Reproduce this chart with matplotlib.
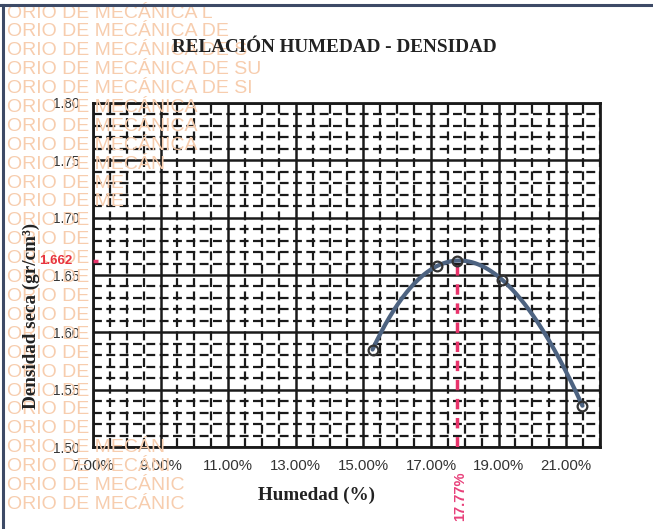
import numpy as np
import matplotlib.pyplot as plt
from matplotlib.ticker import MultipleLocator, FuncFormatter

# Datos del ensayo (humedad %, densidad seca gr/cm3)
humedad = [15.27, 17.19, 19.10, 21.48]
densidad = [1.585, 1.658, 1.646, 1.536]

# Punto máximo (óptimo contenido de humedad / máxima densidad seca)
hum_optima = 17.77
dens_max = 1.662

x_ticks = [7, 9, 11, 13, 15, 17, 19, 21]
y_ticks = [1.50, 1.55, 1.60, 1.65, 1.70, 1.75, 1.80]

# Líneas del sello de fondo
sello = ["ORIO DE MECÁNICA L", "ORIO DE MECÁNICA DE", "ORIO DE MECÁNICA DE S",
         "ORIO DE MECÁNICA DE SU", "ORIO DE MECÁNICA DE SI", "ORIO DE MECÁNICA",
         "ORIO DE MECÁNICA", "ORIO DE MECÁNICA", "ORIO DE MECÁN", "ORIO DE ME",
         "ORIO DE ME", "ORIO DE", "ORIO DE", "ORIO DE", "ORIO DE", "ORIO DE",
         "ORIO DE", "ORIO DE", "ORIO DE", "ORIO DE", "ORIO DE", "ORIO DE",
         "ORIO DE", "ORIO DE MECÁN", "ORIO DE MECÁNI", "ORIO DE MECÁNIC",
         "ORIO DE MECÁNIC"]

fig = plt.figure(figsize=(6.53, 5.29), dpi=100)

# sello naranja claro detrás del gráfico
for i, linea in enumerate(sello):
    fig.text(7 / 653, 1 - (13 + i * 18.9) / 529, linea, fontsize=14,
             family="Liberation Sans", color="#f7cdae", va="center", ha="left", zorder=0)

# marco del documento
fig.add_artist(plt.Line2D([0, 1], [1 - 5 / 529, 1 - 5 / 529], color="#3d4a66", lw=2.2))
fig.add_artist(plt.Line2D([3 / 653, 3 / 653], [0, 1 - 5 / 529], color="#3d4a66", lw=2.2))

ax = fig.add_axes([93 / 653, 1 - 447 / 529, 507 / 653, 344 / 529])
ax.set_facecolor((1, 1, 1, 0.8))

# curva de ajuste (polinomio) a los puntos del ensayo
coef = np.polyfit(humedad, densidad, 3)
xs = np.linspace(min(humedad), max(humedad), 200)
ax.plot(xs, np.polyval(coef, xs), color="#4d6381", lw=3, zorder=4, solid_capstyle="round")
ax.plot(humedad + [hum_optima], densidad + [dens_max], "o", ms=7, mfc="none",
        mec="#333333", mew=1.6, zorder=5)

# línea del óptimo
ax.vlines(hum_optima, 1.50, dens_max, colors="#e8336b", lw=2.5,
          linestyles=(0, (3, 2.5)), zorder=3)
ax.hlines(dens_max, 7, 7.15, colors="#e8336b", lw=2.5, zorder=3)

ax.set_xlim(7, 22)
ax.set_ylim(1.50, 1.80)
ax.set_xticks(x_ticks)
ax.set_yticks(y_ticks)
ax.xaxis.set_minor_locator(MultipleLocator(0.5))
ax.yaxis.set_minor_locator(MultipleLocator(0.01))
ax.xaxis.set_major_formatter(FuncFormatter(lambda v, p: f"{v:.2f}%"))
ax.yaxis.set_major_formatter(FuncFormatter(lambda v, p: f"{v:.2f}"))
ax.grid(which="major", color="#1a1a1a", lw=1.8)
ax.grid(which="minor", color="#1a1a1a", lw=1.6, linestyle=(0, (4, 2)))
ax.set_axisbelow(True)
ax.tick_params(which="both", length=0)
ax.tick_params(axis="x", pad=9, labelsize=10.8, labelcolor="#333333")
ax.tick_params(axis="y", pad=10, labelsize=9.8, labelcolor="#333333")
for lab in ax.get_xticklabels() + ax.get_yticklabels():
    lab.set_family("Liberation Sans")
for s in ax.spines.values():
    s.set_linewidth(2)
    s.set_color("#1a1a1a")

# textos
fig.text(334 / 653, 1 - 48 / 529, "RELACIÓN HUMEDAD - DENSIDAD", ha="center", va="center",
         fontsize=13.8, fontweight="bold", family="Liberation Serif", color="#222222")
fig.text(316 / 653, 1 - 495 / 529, "Humedad (%)", ha="center", va="center",
         fontsize=13.8, fontweight="bold", family="Liberation Serif", color="#222222")
fig.text(31 / 653, 1 - 316 / 529, "Densidad seca (gr/cm³)", ha="center", va="center",
         rotation=90, fontsize=13.8, fontweight="bold", family="Liberation Serif", color="#222222")
fig.text(72 / 653, ax.transData.transform((7, dens_max))[1] / 529, f"{dens_max:.3f}",
         ha="right", va="center", fontsize=9.5, fontweight="bold",
         family="Liberation Sans", color="#e8333f")
fig.text((ax.transData.transform((hum_optima, 1.5))[0] + 3) / 653, 1 - 496 / 529,
         f"{hum_optima:.2f}%", ha="center", va="center", rotation=90, fontsize=10.5,
         fontweight="bold", family="Liberation Sans", color="#e8407a")

plt.savefig("out.png", dpi=100)
